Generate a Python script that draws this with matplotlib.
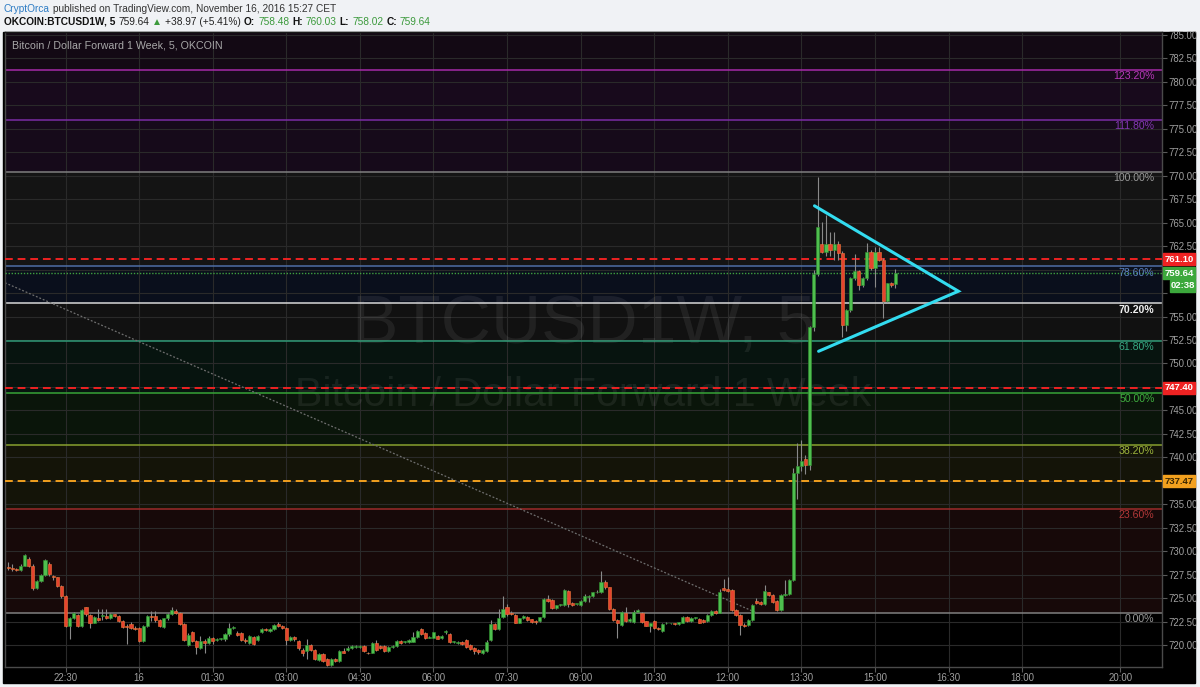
"""
plot.py: OKCOIN BTCUSD1W 5-minute candles with Fibonacci extension levels,
alert lines and a symmetrical triangle, styled like a TradingView snapshot.

Writes out.png (1200x687).
"""

import matplotlib
matplotlib.use("Agg")
import matplotlib.pyplot as plt
import matplotlib.dates as mdates
import matplotlib.transforms as mtransforms
from matplotlib.patches import Rectangle
import numpy as np
import pandas as pd


# ---------------------------------------------------------------- data
FIRST_CANDLE = "2016-11-15 21:20"      # 5-minute bars

opens = [
    728.35, 728.17, 728.05, 728.0, 728.46, 729.2, 728.46, 726.1, 726.8, 727.5,
    728.6, 727.4, 727.2, 726.3, 725.2, 722.0, 722.9, 723.2, 722.0, 724.0,
    723.2, 722.4, 722.85, 723.1, 723.1, 722.85, 723.3, 723.1, 722.6, 722.0,
    722.2, 721.8, 721.8, 720.4, 722.0, 723.1, 723.1, 722.65, 721.95, 722.85,
    723.3, 723.6, 723.4, 722.25, 720.0, 721.4, 720.4, 719.7, 720.4, 720.2,
    720.8, 720.5, 720.6, 720.6, 721.15, 721.8,
    721.3, 721.3, 720.5, 720.2, 720.9, 720.5, 721.4, 721.7, 721.5, 721.7,
    722.2, 722.0, 721.8, 720.5, 720.9, 720.4, 719.5, 719.4, 720.0, 719.5,
    718.4, 719.05, 718.5, 717.9, 718.5, 718.3, 719.4, 719.5, 719.65, 719.8,
    719.8, 719.95, 719.2, 719.2, 720.2, 719.9, 719.9, 719.4, 719.8, 719.9,
    720.4, 720.3, 720.3, 720.35, 720.9, 721.7, 721.3, 720.8, 720.8, 721.0,
    720.7, 721.4, 721.2, 720.3, 720.25, 720.3, 720.5,
    720.0, 719.65, 719.5, 719.1, 719.4, 720.5, 722.2, 721.7, 723.0, 724.1,
    723.45, 723.2, 722.4, 722.85, 723.0, 722.75, 722.6, 722.6, 722.95, 724.9,
    724.8, 723.9, 724.3, 724.25, 725.8, 724.5, 724.35, 724.3, 724.7, 725.1,
    725.2, 725.6, 725.6, 726.75, 726.15, 723.8, 722.7, 722.1, 723.4, 722.6,
    722.5, 723.55, 723.4, 722.56, 722.06, 722.6, 721.85, 721.5, 722.3, 722.3,
    722.3, 722.2, 722.4, 723.0, 722.6, 722.85, 722.8, 722.7,
    722.56, 723.2, 723.6, 723.45, 726.1, 726.0, 725.9, 723.7, 723.2, 722.1,
    722.1, 722.7, 724.7, 724.6, 724.4, 725.6, 725.3, 724.7, 723.7, 725.3,
    725.4, 726.9, 738.3, 739.1, 739.8, 739.2, 753.9, 759.5, 762.73, 761.9,
    762.7, 762.1, 762.73, 761.74, 754.1, 755.7, 759.07, 759.85, 758.36, 759.07,
    761.9, 760.14, 761.9, 761.02, 756.66, 758.54, 758.48,
]
highs = [
    728.9, 728.6, 728.2, 728.6, 729.7, 729.4, 728.6, 726.9, 727.6, 729.2,
    728.9, 727.5, 727.3, 726.4, 725.3, 723.0, 723.5, 723.3, 723.8, 724.1,
    723.3, 723.1, 723.8, 723.8, 723.8, 723.4, 723.3, 723.2, 722.7, 722.2,
    722.5, 722.0, 721.9, 722.1, 723.2, 723.6, 723.6, 722.8, 722.9, 723.4,
    724.0, 723.8, 723.5, 722.3, 721.3, 721.5, 720.5, 721.0, 720.6, 721.0,
    720.9, 720.7, 720.8, 721.3, 722.3, 722.0,
    721.5, 721.4, 720.75, 721.1, 721.0, 721.1, 721.8, 721.8, 721.8, 722.2,
    722.5, 722.1, 721.9, 721.0, 721.0, 720.5, 719.7, 720.65, 720.1, 719.6,
    719.1, 719.1, 718.6, 718.6, 718.6, 719.5, 719.7, 719.9, 720.0, 720.0,
    720.0, 720.0, 719.3, 720.3, 720.5, 720.0, 720.0, 719.9, 720.0, 720.5,
    720.5, 720.45, 720.6, 721.4, 721.6, 721.8, 721.4, 721.0, 721.4, 721.1,
    721.1, 721.6, 721.3, 720.4, 720.4, 720.4, 720.6,
    720.1, 719.8, 719.6, 719.6, 720.5, 722.7, 722.3, 723.8, 725.2, 724.4,
    723.6, 723.3, 722.9, 723.2, 723.1, 722.8, 722.7, 723.0, 725.0, 725.3,
    724.9, 724.3, 724.4, 726.0, 725.9, 724.6, 724.4, 724.8, 725.4, 725.3,
    725.7, 725.9, 727.9, 726.9, 726.2, 723.9, 722.8, 723.6, 724.0, 722.9,
    723.7, 723.8, 723.5, 722.6, 722.4, 722.7, 721.9, 722.3, 722.5, 722.4,
    722.4, 722.5, 723.1, 723.1, 723.0, 723.0, 722.9, 722.8,
    723.3, 723.7, 723.7, 726.0, 727.0, 727.2, 726.0, 723.8, 723.3, 722.3,
    722.8, 724.4, 725.0, 724.7, 726.4, 725.7, 725.4, 724.8, 725.4, 726.9,
    727.0, 738.9, 741.5, 741.8, 740.3, 754.0, 760.0, 769.9, 765.1, 765.8,
    764.0, 764.0, 763.0, 762.0, 755.8, 759.2, 761.7, 760.0, 759.2, 762.8,
    762.1, 762.4, 762.4, 761.2, 758.6, 758.7, 760.03,
]
lows = [
    728.0, 727.9, 727.9, 727.9, 728.4, 728.3, 725.9, 726.0, 726.7, 727.4,
    727.4, 726.9, 726.2, 725.0, 721.9, 720.6, 722.8, 721.9, 721.9, 723.1,
    721.8, 722.3, 722.6, 722.7, 722.8, 722.8, 723.0, 722.5, 721.8, 720.1,
    721.7, 721.6, 720.3, 720.3, 721.9, 722.6, 722.5, 721.9, 721.8, 722.7,
    723.2, 723.3, 722.1, 720.4, 719.9, 720.3, 719.0, 719.6, 719.2, 720.1,
    720.1, 720.4, 720.5, 720.4, 721.0, 721.7,
    721.0, 720.4, 720.2, 720.1, 720.0, 720.4, 721.3, 721.5, 721.4, 721.6,
    721.9, 721.7, 720.0, 720.4, 720.4, 719.5, 718.8, 718.55, 719.4, 718.4,
    718.3, 718.2, 717.8, 717.8, 718.2, 718.2, 719.1, 719.4, 719.6, 719.7,
    719.7, 719.3, 719.0, 719.1, 719.4, 719.6, 719.3, 719.3, 719.7, 719.8,
    720.1, 720.2, 720.2, 720.3, 720.8, 721.1, 720.6, 720.7, 720.7, 720.6,
    720.6, 721.2, 720.2, 720.2, 720.1, 720.0, 719.7,
    719.5, 719.0, 719.0, 719.0, 719.3, 720.4, 721.6, 721.6, 722.9, 723.1,
    723.2, 722.3, 722.3, 722.8, 722.6, 722.4, 722.2, 722.5, 722.9, 724.6,
    723.8, 723.8, 724.2, 724.2, 724.0, 724.2, 724.3, 724.2, 724.6, 724.6,
    725.1, 725.5, 725.5, 726.0, 723.7, 722.6, 720.8, 722.0, 722.5, 722.5,
    722.4, 723.5, 722.4, 722.0, 721.4, 721.7, 721.6, 721.4, 722.2, 722.2,
    722.1, 722.1, 722.3, 722.5, 722.5, 722.8, 722.3, 722.4,
    722.5, 723.1, 723.3, 723.4, 725.8, 725.7, 723.6, 723.1, 721.1, 721.9,
    722.0, 722.6, 724.4, 724.3, 724.3, 725.2, 724.5, 723.6, 723.6, 725.2,
    725.3, 726.8, 735.6, 738.5, 738.2, 738.6, 753.5, 759.3, 761.8, 761.5,
    761.4, 761.0, 761.0, 752.8, 753.5, 755.5, 758.9, 757.8, 758.2, 758.9,
    760.0, 758.2, 760.9, 754.8, 756.5, 758.2, 758.02,
]
closes = [
    728.17, 728.1, 728.0, 728.46, 729.6, 728.46, 726.1, 726.8, 727.5, 729.1,
    727.6, 727.2, 726.3, 725.2, 722.0, 722.9, 723.45, 722.0, 723.7, 723.3,
    722.4, 723.0, 722.7, 723.2, 722.9, 723.3, 723.1, 722.6, 721.95, 721.95,
    721.8, 721.75, 720.4, 722.0, 723.1, 723.0, 722.65, 722.05, 722.85, 723.3,
    723.75, 723.4, 722.25, 720.5, 721.1, 720.4, 719.75, 720.4, 720.2, 720.8,
    720.4, 720.6, 720.7, 721.15, 721.8, 721.9,
    721.07, 720.5, 720.45, 721.0, 720.1, 721.0, 721.7, 721.6, 721.7, 722.1,
    722.0, 721.8, 720.5, 720.9, 720.6, 719.65, 719.2, 720.0, 719.5, 718.5,
    719.05, 718.3, 717.9, 718.5, 718.35, 719.4, 719.2, 719.65, 719.9, 719.8,
    719.95, 719.4, 719.1, 720.2, 719.5, 719.7, 719.4, 719.8, 719.95, 720.4,
    720.25, 720.4, 720.5, 720.9, 721.5, 721.2, 720.7, 720.9, 721.35, 720.65,
    721.0, 721.4, 720.35, 720.3, 720.35, 720.1, 719.75,
    719.55, 719.4, 719.3, 719.5, 720.36, 722.2, 721.7, 722.85, 723.8, 723.27,
    723.3, 722.4, 722.85, 723.1, 722.7, 722.5, 722.5, 722.95, 724.87, 724.7,
    723.9, 724.25, 724.3, 725.9, 724.4, 724.3, 724.35, 724.7, 725.2, 725.2,
    725.6, 725.6, 726.75, 726.15, 723.8, 722.7, 722.3, 723.5, 722.56, 722.75,
    723.55, 723.7, 722.5, 722.06, 722.3, 721.8, 721.7, 722.2, 722.4, 722.3,
    722.2, 722.45, 723.0, 722.6, 722.9, 722.95, 722.4, 722.5,
    723.2, 723.6, 723.45, 725.7, 725.9, 725.8, 723.7, 723.2, 722.1, 722.0,
    722.7, 724.3, 724.5, 724.4, 725.8, 725.3, 724.6, 723.7, 725.3, 725.4,
    726.9, 738.3, 739.1, 739.6, 739.2, 753.9, 759.5, 764.5, 761.9, 762.73,
    762.1, 762.7, 761.74, 754.1, 755.7, 759.07, 759.85, 758.36, 759.07, 761.9,
    760.14, 761.9, 761.02, 756.66, 758.54, 758.36, 759.64,
]

# Fibonacci extension drawn from the 0% low to the 100% spike high
FIB_LOW = 723.4
FIB_HIGH = 770.4
fib_ratios = [0.0, 0.236, 0.382, 0.5, 0.618, 0.702, 0.786, 1.0, 1.118, 1.232]
fib_labels = ["0.00%", "23.60%", "38.20%", "50.00%", "61.80%", "70.20%",
              "78.60%", "100.00%", "111.80%", "123.20%"]

# horizontal alert lines
alert_prices = [761.10, 747.40, 737.47]
alert_labels = ["761.10", "747.40", "737.47"]

LAST_PRICE = 759.64
COUNTDOWN = "02:38"
COUNTDOWN_Y = 758.26

# symmetrical triangle and the falling trend line
triangle_times = ["2016-11-16 13:46", "2016-11-16 16:42", "2016-11-16 13:51"]
triangle_prices = [766.8, 757.7, 751.3]
trend_times = ["2016-11-15 21:16", "2016-11-16 12:36"]
trend_prices = [758.6, 723.4]

tick_times = ["2016-11-15 22:30", "2016-11-16 00:00", "2016-11-16 01:30",
              "2016-11-16 03:00", "2016-11-16 04:30", "2016-11-16 06:00",
              "2016-11-16 07:30", "2016-11-16 09:00", "2016-11-16 10:30",
              "2016-11-16 12:00", "2016-11-16 13:30", "2016-11-16 15:00",
              "2016-11-16 16:30", "2016-11-16 18:00", "2016-11-16 20:00"]
tick_labels = ["22:30", "16", "01:30", "03:00", "04:30", "06:00", "07:30",
               "09:00", "10:30", "12:00", "13:30", "15:00", "16:30", "18:00",
               "20:00"]

# ---------------------------------------------------------------- style
W, H = 1200, 687
BG = "#f0f2f5"
UP = "#4fbf4f"
DOWN = "#e6432f"
FONT = "Liberation Sans"

fib_line_colors = ["#7f7f7f", "#9c2b2b", "#88a02e", "#37a337", "#2f9a76",
                   "#d8d8d8", "#4e6ea6", "#7f7f7f", "#7a2ca4", "#a52aa8"]
fib_text_colors = ["#9a9a9a", "#b33838", "#9db43c", "#3fae3f", "#36a883",
                   "#f0f0f0", "#5a80bd", "#9a9a9a", "#8438b4", "#b638b8"]
# fill of the band that starts at each level (last one runs to the top)
fib_band_colors = ["#170909", "#141408", "#0a150a", "#07140f", "#111111",
                   "#0a0f1c", "#141414", "#160a1a", "#180a1c", "#130914"]
alert_colors = ["#ee2222", "#ee2222", "#f2a01e"]
alert_box_text = ["white", "white", "#3a2600"]


def px_x(px):
    return px / W


def px_y(py):
    return 1 - py / H


def draw_header(fig):
    """Two lines of header text, drawn run by run so colours can change."""
    renderer = fig.canvas.get_renderer()

    def runs(y_px, parts, size):
        x = 4
        for text, color, weight in parts:
            t = fig.text(px_x(x), px_y(y_px), text, color=color, fontsize=size,
                         fontweight=weight, va="center", ha="left",
                         family=[FONT, "DejaVu Sans"])
            bb = t.get_window_extent(renderer)
            x += bb.width + 3

    runs(9, [("CryptOrca", "#2d7cc4", "normal"),
             ("published on TradingView.com, November 16, 2016 15:27 CET",
              "#333333", "normal")], 7.3)
    g = "#3c9a3c"
    runs(22, [("OKCOIN:BTCUSD1W, 5", "#111111", "bold"),
              ("759.64", "#222222", "normal"),
              ("\u25b2", g, "normal"),
              ("+38.97 (+5.41%)", "#222222", "normal"),
              ("O:", "#111111", "bold"), ("758.48", g, "normal"),
              ("H:", "#111111", "bold"), ("760.03", g, "normal"),
              ("L:", "#111111", "bold"), ("758.02", g, "normal"),
              ("C:", "#111111", "bold"), ("759.64", g, "normal")], 7.3)


def draw_fib(ax, levels, top):
    bounds = levels + [top]
    trans = mtransforms.blended_transform_factory(ax.transAxes, ax.transData)
    for i, lvl in enumerate(levels):
        ax.axhspan(lvl, bounds[i + 1], color=fib_band_colors[i], zorder=0.2, lw=0)
        ax.axhline(lvl, color=fib_line_colors[i], lw=1.1, zorder=2)
        ax.text(0.9935, lvl - 0.12, fib_labels[i], transform=trans,
                ha="right", va="top", fontsize=7.6, family=FONT,
                color=fib_text_colors[i],
                fontweight="bold" if fib_labels[i] == "70.20%" else "normal",
                zorder=6)


def draw_candles(ax, t, o, h, l, c):
    o, h, l, c = map(np.asarray, (o, h, l, c))
    x = mdates.date2num(t)
    up = c >= o
    ax.vlines(x, l, h, color="#8a8a8a", lw=0.8, zorder=3)
    bottom = np.minimum(o, c)
    height = np.maximum(np.abs(c - o), 0.08)
    width = 3.9 / 1440
    ax.bar(x[up], height[up], bottom=bottom[up], width=width, color=UP,
           edgecolor="#2f8f2f", lw=0.4, zorder=4)
    ax.bar(x[~up], height[~up], bottom=bottom[~up], width=width, color=DOWN,
           edgecolor="#f07a3a", lw=0.4, zorder=4)


def price_box(ax, price, text, face, fg, x0=1.0009, x1=1.0285, h=1.25):
    trans = mtransforms.blended_transform_factory(ax.transAxes, ax.transData)
    ax.add_patch(Rectangle((x0, price - h / 2), x1 - x0, h, transform=trans,
                           facecolor=face, edgecolor=face, clip_on=False,
                           zorder=10))
    ax.text((x0 + x1) / 2, price, text, transform=trans, ha="center",
            va="center", fontsize=6.8, fontweight="bold", family=FONT,
            color=fg, clip_on=False, zorder=11)


def main():
    times = pd.date_range(FIRST_CANDLE, periods=len(closes), freq="5min")

    fig = plt.figure(figsize=(W / 100, H / 100), dpi=100, facecolor=BG)
    # black chart panel (plot + both scales), behind the axes
    fig.patches.append(Rectangle((px_x(3), px_y(683)), px_x(1192), 651 / H,
                                 transform=fig.transFigure, color="black",
                                 zorder=-5))
    ax = fig.add_axes([px_x(5), px_y(667), px_x(1157), 635 / H])
    ax.set_zorder(2)
    ax.set_facecolor("black")

    ax.set_xlim(mdates.date2num(pd.Timestamp("2016-11-15 21:16")),
                mdates.date2num(pd.Timestamp("2016-11-16 20:51")))
    ax.set_ylim(717.66, 785.32)

    levels = [FIB_LOW + r * (FIB_HIGH - FIB_LOW) for r in fib_ratios]
    draw_fib(ax, levels, 785.32)

    # grid; price labels hidden where a marker box sits on the scale
    ax.set_axisbelow(True)
    yt = np.arange(720, 785.01, 2.5)
    covered = alert_prices + [LAST_PRICE, COUNTDOWN_Y]
    ylabels = ["" if min(abs(v - p) for p in covered) < 1.0 else f"{v:.2f}"
               for v in yt]
    ax.set_yticks(yt)
    ax.set_yticklabels(ylabels)
    ax.set_xticks(mdates.date2num(pd.to_datetime(tick_times)))
    ax.set_xticklabels(tick_labels)
    ax.grid(True, color="#2a2a2a", lw=0.8)

    ax.yaxis.tick_right()
    ax.tick_params(axis="both", colors="#5a5a5a", labelcolor="#a0a0a0",
                   labelsize=6.9, length=3.5, width=0.8)
    ax.tick_params(axis="y", pad=1.5)
    ax.tick_params(axis="x", pad=0.8)
    for lab in ax.get_xticklabels() + ax.get_yticklabels():
        lab.set_family(FONT)
    for side, sp in ax.spines.items():
        sp.set_color("#4a4a4a" if side != "top" else "#1a1a1a")
        sp.set_linewidth(1)

    # watermark
    ax.text(0.5, 0.539, "BTCUSD1W, 5", transform=ax.transAxes, ha="center",
            va="center", fontsize=50, family=FONT, color="white", alpha=0.07,
            zorder=0.8)
    ax.text(0.5, 0.428, "Bitcoin / Dollar Forward 1 Week", transform=ax.transAxes,
            ha="center", va="center", fontsize=29.5, family=FONT, color="white",
            alpha=0.07, zorder=0.8)
    ax.text(0.006, 0.978, "Bitcoin / Dollar Forward 1 Week, 5, OKCOIN",
            transform=ax.transAxes, ha="left", va="center", fontsize=7.7,
            family=FONT, color="#a8a8a8", zorder=6)

    # falling trend line
    ax.plot(mdates.date2num(pd.to_datetime(trend_times)), trend_prices,
            color="#6f6f6f", lw=0.9, ls=(0, (1.5, 1.5)), zorder=2.5)

    # alert lines and last price line
    for p, col in zip(alert_prices, alert_colors):
        ax.axhline(p, color=col, lw=1.4, ls=(0, (4, 2.5)), zorder=2.6)
    ax.axhline(LAST_PRICE, color="#3f9f3f", lw=1.0, ls=(0, (1, 1.2)), zorder=2.6)

    draw_candles(ax, times, opens, highs, lows, closes)

    # triangle
    tri_x = mdates.date2num(pd.to_datetime(triangle_times))
    ax.plot(tri_x, triangle_prices, color="#33dcf0", lw=2.2, zorder=5,
            solid_capstyle="round", solid_joinstyle="miter")

    # price scale markers
    for p, lab, col, fg in zip(alert_prices, alert_labels, alert_colors,
                               alert_box_text):
        price_box(ax, p, lab, col, fg)
    price_box(ax, LAST_PRICE, f"{LAST_PRICE:.2f}", "#3ca83c", "white")
    price_box(ax, COUNTDOWN_Y, COUNTDOWN, "#3ca83c", "white", x0=1.0069)

    draw_header(fig)
    fig.savefig("out.png", dpi=100, facecolor=BG)
    plt.close(fig)


if __name__ == "__main__":
    main()
